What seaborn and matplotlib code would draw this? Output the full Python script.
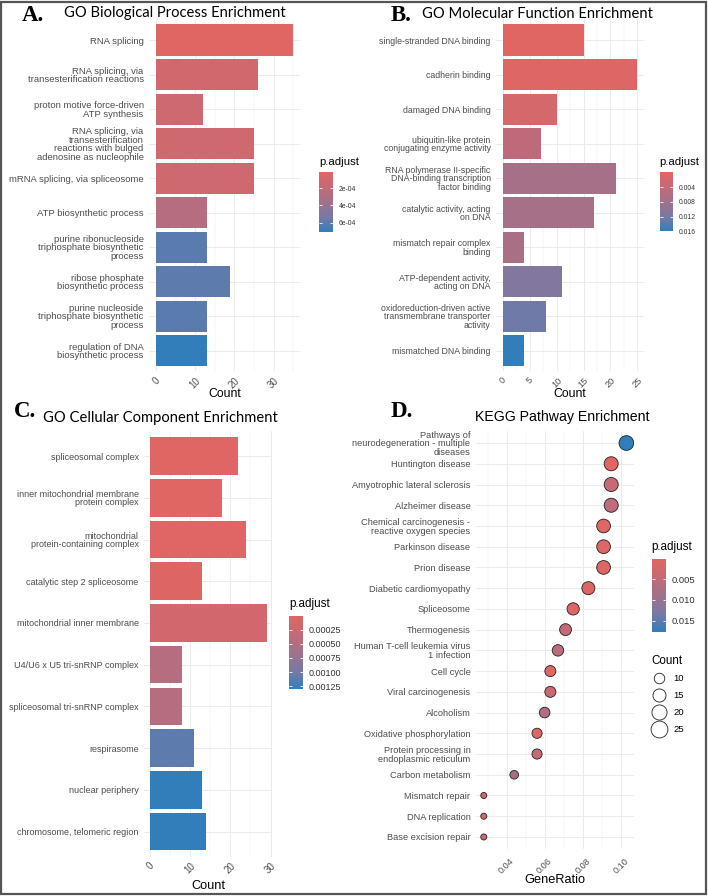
import numpy as np
import pandas as pd
import matplotlib
matplotlib.use("Agg")
import matplotlib.pyplot as plt
from matplotlib.colors import LinearSegmentedColormap, Normalize
from matplotlib.cm import ScalarMappable
from matplotlib.lines import Line2D
from matplotlib.patches import Rectangle
from matplotlib.ticker import MultipleLocator
import seaborn as sns

# ── data ─────────────────────────────────────────────────────────────────────

bp_terms = ["RNA splicing",
            "RNA splicing, via\ntransesterification reactions",
            "proton motive force-driven\nATP synthesis",
            "RNA splicing, via\ntransesterification\nreactions with bulged\nadenosine as nucleophile",
            "mRNA splicing, via spliceosome",
            "ATP biosynthetic process",
            "purine ribonucleoside\ntriphosphate biosynthetic\nprocess",
            "ribose phosphate\nbiosynthetic process",
            "purine nucleoside\ntriphosphate biosynthetic\nprocess",
            "regulation of DNA\nbiosynthetic process"]
bp_count = [35, 26, 12, 25, 25, 13, 13, 19, 13, 13]
bp_padj = [1.0e-5, 1.1e-4, 1.3e-4, 1.2e-4, 1.2e-4, 2.6e-4, 6.1e-4, 6.0e-4, 6.1e-4, 7.1e-4]

mf_terms = ["single-stranded DNA binding",
            "cadherin binding",
            "damaged DNA binding",
            "ubiquitin-like protein\nconjugating enzyme activity",
            "RNA polymerase II-specific\nDNA-binding transcription\nfactor binding",
            "catalytic activity, acting\non DNA",
            "mismatch repair complex\nbinding",
            "ATP-dependent activity,\nacting on DNA",
            "oxidoreduction-driven active\ntransmembrane transporter\nactivity",
            "mismatched DNA binding"]
mf_count = [15, 25, 10, 7, 21, 17, 4, 11, 8, 4]
mf_padj = [5e-5, 3e-4, 1.6e-3, 4.8e-3, 7.6e-3, 7.6e-3, 7.0e-3, 1.1e-2, 1.25e-2, 1.6e-2]

cc_terms = ["spliceosomal complex",
            "inner mitochondrial membrane\nprotein complex",
            "mitochondrial\nprotein-containing complex",
            "catalytic step 2 spliceosome",
            "mitochondrial inner membrane",
            "U4/U6 x U5 tri-snRNP complex",
            "spliceosomal tri-snRNP complex",
            "respirasome",
            "nuclear periphery",
            "chromosome, telomeric region"]
cc_count = [22, 18, 24, 13, 29, 8, 8, 11, 13, 14]
cc_padj = [2e-6, 1e-5, 2e-5, 4e-5, 1.6e-4, 4.6e-4, 4.6e-4, 1.1e-3, 1.3e-3, 1.3e-3]

kegg_terms = ["Pathways of\nneurodegeneration - multiple\ndiseases",
              "Huntington disease",
              "Amyotrophic lateral sclerosis",
              "Alzheimer disease",
              "Chemical carcinogenesis -\nreactive oxygen species",
              "Parkinson disease",
              "Prion disease",
              "Diabetic cardiomyopathy",
              "Spliceosome",
              "Thermogenesis",
              "Human T-cell leukemia virus\n1 infection",
              "Cell cycle",
              "Viral carcinogenesis",
              "Alcoholism",
              "Oxidative phosphorylation",
              "Protein processing in\nendoplasmic reticulum",
              "Carbon metabolism",
              "Mismatch repair",
              "DNA replication",
              "Base excision repair"]
kegg_ratio = [0.103, 0.095, 0.095, 0.095, 0.091, 0.091, 0.091, 0.083, 0.075, 0.071,
              0.067, 0.063, 0.063, 0.060, 0.056, 0.056, 0.044, 0.028, 0.028, 0.028]
kegg_count = [26, 24, 24, 24, 23, 23, 23, 21, 19, 18, 17, 16, 16, 15, 14, 14, 11, 7, 7, 7]
kegg_padj = [0.0177, 0.0005, 0.0042, 0.0052, 0.0008, 0.0008, 0.0008, 0.0006, 0.0008, 0.0045,
             0.0058, 0.0001, 0.0035, 0.0066, 0.0008, 0.0042, 0.0085, 0.0022, 0.0022, 0.0028]

count_breaks = [10, 15, 20, 25]

# ── styling ──────────────────────────────────────────────────────────────────

W, H = 708, 896
cmap = LinearSegmentedColormap.from_list(
    "enrich", ["#e06663", "#c46a77", "#a1718a", "#7879a5", "#327eba"])
GRID = "#EBEBEB"
TICK = "#4D4D4D"
SANS = ["Liberation Sans", "DejaVu Sans"]
plt.rcParams["font.family"] = SANS


def box(x0, y0, x1, y1):
    return [x0 / W, 1 - y1 / H, (x1 - x0) / W, (y1 - y0) / H]


def ftext(x, y, s, **kw):
    fig.text(x / W, 1 - y / H, s, **kw)


def style_axis(ax, n, ylab_size, xtick_size, minor):
    sns.despine(ax=ax, left=True, bottom=True)
    ax.set_ylim(n - 1 + 0.6, -0.6)
    ax.set_axisbelow(True)
    ax.xaxis.set_minor_locator(MultipleLocator(minor))
    ax.grid(True, which="major", color=GRID, lw=0.7)
    ax.grid(True, which="minor", axis="x", color=GRID, lw=0.35)
    ax.tick_params(which="both", length=0)
    ax.tick_params(axis="y", labelsize=ylab_size, labelcolor=TICK, pad=4)
    ax.tick_params(axis="x", labelsize=xtick_size, labelcolor=TICK, pad=3)
    for lab in ax.get_yticklabels():
        lab.set_linespacing(0.95)
    for lab in ax.get_xticklabels():
        lab.set_rotation(45)
        lab.set_ha("center")
        lab.set_va("top")
    ax.set_xlabel("")
    ax.set_ylabel("")


def colorbar(bounds, vmin, vmax, ticks, fmt, size):
    cax = fig.add_axes(box(*bounds))
    sm = ScalarMappable(norm=Normalize(vmin, vmax), cmap=cmap)
    cb = fig.colorbar(sm, cax=cax, ticks=ticks)
    cb.outline.set_visible(False)
    cax.invert_yaxis()
    cax.set_yticklabels([fmt(t) for t in ticks])
    cax.tick_params(left=True, right=True, labelleft=False, labelright=True,
                    direction="in", color="white", length=2.5, width=0.6,
                    labelsize=size, labelcolor="#333333", pad=4)
    return cax


def bar_panel(bounds, terms, counts, padj, xmax, step, minor, ylab_size, xtick_size):
    df = pd.DataFrame({"Description": terms, "Count": counts, "p.adjust": padj})
    ax = fig.add_axes(box(*bounds))
    sns.barplot(data=df, x="Count", y="Description", hue="p.adjust", palette=cmap,
                hue_norm=(df["p.adjust"].min(), df["p.adjust"].max()),
                dodge=False, legend=False, width=0.9, saturation=1,
                linewidth=0, errorbar=None, orient="h", ax=ax)
    ax.set_xlim(-xmax * 0.05 / 1.05, xmax)
    ax.xaxis.set_major_locator(MultipleLocator(step))
    style_axis(ax, len(terms), ylab_size, xtick_size, minor)
    return ax, df


fig = plt.figure(figsize=(W / 100, H / 100), dpi=100)

# ── A. Biological process ────────────────────────────────────────────────────

axA, dfA = bar_panel((149.2, 19.3, 300, 371.4), bp_terms, bp_count, bp_padj,
                     36.75, 10, 5, 6.8, 6.9)
ftext(224.6, 397, "Count", ha="center", va="baseline", fontsize=8.8)
colorbar((319, 172, 333, 232), dfA["p.adjust"].min(), dfA["p.adjust"].max(),
         [2e-4, 4e-4, 6e-4], lambda t: f"{t:.0e}", 4.9)
ftext(319, 165, "p.adjust", fontsize=8.2, va="baseline")

# ── B. Molecular function ────────────────────────────────────────────────────

axB, dfB = bar_panel((496.3, 19.3, 644, 371.4), mf_terms, mf_count, mf_padj,
                     26.25, 5, 2.5, 6.3, 6.6)
ftext(570, 397, "Count", ha="center", va="baseline", fontsize=8.8)
colorbar((660, 172.5, 673, 231.5), 0.0, dfB["p.adjust"].max(),
         [0.004, 0.008, 0.012, 0.016], lambda t: f"{t:.3f}", 4.9)
ftext(659, 165, "p.adjust", fontsize=8.2, va="baseline")

# ── C. Cellular component ────────────────────────────────────────────────────

axC, dfC = bar_panel((144.2, 431, 272.4, 856.7), cc_terms, cc_count, cc_padj,
                     30.45, 10, 5, 6.5, 7.0)
ftext(208.3, 889, "Count", ha="center", va="baseline", fontsize=9.2)
colorbar((289, 615.7, 303, 689), 0.0, dfC["p.adjust"].max(),
         [0.00025, 0.0005, 0.00075, 0.001, 0.00125], lambda t: f"{t:.5f}", 6.5)
ftext(289, 607, "p.adjust", fontsize=8.4, va="baseline")

# ── D. KEGG dot plot ─────────────────────────────────────────────────────────

dfD = pd.DataFrame({"Description": kegg_terms, "GeneRatio": kegg_ratio,
                    "Count": kegg_count, "p.adjust": kegg_padj})
axD = fig.add_axes(box(476, 430.6, 634, 849.4))
size_rng = (19, 112)
size_lim = (dfD["Count"].min(), dfD["Count"].max())
sns.scatterplot(data=dfD, x="GeneRatio", y="Description", hue="p.adjust",
                palette=cmap, hue_norm=(0.0001, dfD["p.adjust"].max()),
                size="Count", sizes=size_rng, size_norm=size_lim,
                edgecolor="#222222", linewidth=0.6, legend=False, zorder=3, ax=axD)
axD.set_xlim(0.0239, 0.107)
axD.xaxis.set_major_locator(MultipleLocator(0.02))
axD.xaxis.set_major_formatter(lambda v, p: f"{v:.2f}")
style_axis(axD, len(kegg_terms), 6.7, 6.6, 0.01)
axD.tick_params(axis="x", pad=5)
ftext(555, 883, "GeneRatio", ha="center", va="baseline", fontsize=9.2)
ftext(562.5, 421, "KEGG Pathway Enrichment", ha="center", va="baseline", fontsize=10.2)

colorbar((651.7, 559, 666, 631.7), 0.0001, dfD["p.adjust"].max(),
         [0.005, 0.010, 0.015], lambda t: f"{t:.3f}", 6.8)
ftext(651.5, 550, "p.adjust", fontsize=8.4, va="baseline")
ftext(651.5, 664, "Count", fontsize=8.4, va="baseline")

handles = []
for c in count_breaks:
    s = size_rng[0] + (c - size_lim[0]) / (size_lim[1] - size_lim[0]) * (size_rng[1] - size_rng[0])
    handles.append(Line2D([], [], ls="", marker="o", markersize=np.sqrt(s) + 1.8,
                          markerfacecolor="white", markeredgecolor="#222222",
                          markeredgewidth=0.6))
fig.legend(handles, [str(c) for c in count_breaks], loc="upper left",
           bbox_to_anchor=(653 / W, 1 - 674 / H), frameon=False, fontsize=6.8,
           handlelength=1.3, handletextpad=0.9, labelspacing=0.85,
           borderaxespad=0, borderpad=0)

# ── panel titles ─────────────────────────────────────────────────────────────

LETTER = dict(fontsize=16.5, fontweight="bold", family=["Liberation Serif", "DejaVu Serif"],
              va="baseline")
TITLE = dict(fontsize=10.6, family=["Lato", "DejaVu Sans"], va="baseline")
ftext(22, 21, "A.", **LETTER)
ftext(64, 17.5, "GO Biological Process Enrichment", **TITLE)
ftext(391, 21, "B.", **LETTER)
ftext(422, 17.5, "GO Molecular Function Enrichment", **TITLE)
ftext(13.5, 417, "C.", **LETTER)
ftext(43, 421.5, "GO Cellular Component Enrichment", **TITLE)
ftext(391, 417, "D.", **LETTER)

# ── frame ────────────────────────────────────────────────────────────────────

fig.patches.append(Rectangle((0.001, 0.0025), 0.996, 0.9955, transform=fig.transFigure,
                             fill=False, edgecolor="#555555", lw=1.6))

fig.savefig("out.png", dpi=100)
